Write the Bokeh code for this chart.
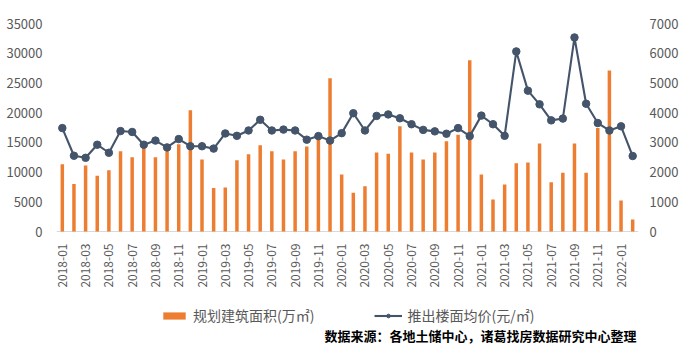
from math import pi
from bokeh.plotting import figure
from bokeh.models import (Range1d, LinearAxis, FixedTicker, Legend, LegendItem,
                          Label, Span, ColumnDataSource)
from bokeh.core.properties import value
from bokeh.embed import file_html
from bokeh.resources import INLINE

months = ["2018-01", "2018-02", "2018-03", "2018-04", "2018-05", "2018-06",
          "2018-07", "2018-08", "2018-09", "2018-10", "2018-11", "2018-12",
          "2019-01", "2019-02", "2019-03", "2019-04", "2019-05", "2019-06",
          "2019-07", "2019-08", "2019-09", "2019-10", "2019-11", "2019-12",
          "2020-01", "2020-02", "2020-03", "2020-04", "2020-05", "2020-06",
          "2020-07", "2020-08", "2020-09", "2020-10", "2020-11", "2020-12",
          "2021-01", "2021-02", "2021-03", "2021-04", "2021-05", "2021-06",
          "2021-07", "2021-08", "2021-09", "2021-10", "2021-11", "2021-12",
          "2022-01", "2022-02"]

area = [11300, 8000, 11100, 9400, 10300, 13500, 12500, 14300, 12500, 13800,
        14700, 20400, 12100, 7300, 7400, 12000, 13000, 14500, 13500, 12100,
        13500, 14300, 15800, 25800, 9600, 6500, 7600, 13300, 13100, 17700,
        13300, 12100, 13300, 15200, 16300, 28800, 9600, 5400, 7900, 11500,
        11600, 14800, 8300, 9900, 14800, 9900, 17400, 27100, 5200, 2000]

price = [3480, 2550, 2480, 2920, 2650, 3380, 3350, 2920, 3060, 2830,
         3110, 2870, 2870, 2790, 3300, 3220, 3400, 3760, 3400, 3430,
         3400, 3090, 3210, 3060, 3310, 3980, 3400, 3890, 3940, 3810,
         3610, 3420, 3370, 3290, 3480, 3210, 3900, 3610, 3220, 6060,
         4740, 4280, 3740, 3800, 6530, 4300, 3650, 3400, 3540, 2540]

left_ticks = [0, 5000, 10000, 15000, 20000, 25000, 30000, 35000]
right_ticks = [0, 1000, 2000, 3000, 4000, 5000, 6000, 7000]

area_label = "规划建筑面积(万㎡)"
price_label = "推出楼面均价(元/㎡)"
source_note = "数据来源：各地土储中心，诸葛找房数据研究中心整理"

# ---- layout (pixels) ----
W, H = 681, 347
TOP, LEFT, RIGHT = 23, 56, 36
ZERO_PX = 231            # screen y of the value 0
NOTE_PX = 335            # screen y of the source note
AREA_MAX, PRICE_MAX = 35000, 7000
per_px = AREA_MAX / (ZERO_PX - TOP)
y_low = -(H - ZERO_PX) * per_px

FONT = "Noto Sans CJK SC"
GRAY = "#595959"

idx = list(range(len(months)))
src = ColumnDataSource(dict(idx=idx, month=months, area=area, price=price))
lab_idx = idx[::2]
lab_src = ColumnDataSource(dict(x=lab_idx, y=[0] * len(lab_idx),
                                text=[months[i] for i in lab_idx]))

p = figure(width=W, height=H, output_backend="svg", toolbar_location=None,
           x_range=Range1d(-0.5, len(months) - 0.5),
           y_range=Range1d(y_low, AREA_MAX),
           x_axis_location=None,
           min_border_left=LEFT, min_border_right=RIGHT, min_border_top=TOP,
           min_border_bottom=0)
p.extra_y_ranges = {"price": Range1d(y_low * PRICE_MAX / AREA_MAX, PRICE_MAX)}
p.outline_line_color = None
p.grid.visible = False

p.add_layout(Span(location=0, dimension="width", line_color="#d9d9d9",
                  line_width=1, level="underlay"))

bars = p.vbar(x="idx", top="area", width=0.3, source=src,
              fill_color="#ed7d31", line_color=None)
ln = p.line(x="idx", y="price", source=src, y_range_name="price",
            line_color="#44546a", line_width=2.1)
pts = p.scatter(x="idx", y="price", source=src, y_range_name="price",
                size=7.5, fill_color="#44546a", line_color="#44546a")

# category labels (rotated, every second month)
p.text(x="x", y="y", text="text", source=lab_src, angle=pi / 2,
       text_align="right", text_baseline="middle", y_offset=12,
       text_font=value(FONT), text_font_size="12px", text_color=GRAY)

# left axis
ya = p.yaxis[0]
ya.ticker = FixedTicker(ticks=left_ticks)
ya.axis_line_color = None
ya.major_tick_line_color = None
ya.minor_tick_line_color = None
ya.major_label_text_font = FONT
ya.major_label_text_font_size = "13px"
ya.major_label_text_color = GRAY
ya.major_label_standoff = 8

# right axis
ra = LinearAxis(y_range_name="price", ticker=FixedTicker(ticks=right_ticks))
ra.axis_line_color = None
ra.major_tick_line_color = None
ra.minor_tick_line_color = None
ra.major_label_text_font = FONT
ra.major_label_text_font_size = "13px"
ra.major_label_text_color = GRAY
ra.major_label_standoff = 5
p.add_layout(ra, "right")

legend = Legend(items=[LegendItem(label=area_label, renderers=[bars]),
                       LegendItem(label=price_label, renderers=[ln, pts])],
                orientation="horizontal", location=(104, 22),
                border_line_color=None, background_fill_alpha=0,
                label_text_font=FONT, label_text_font_size="14px",
                label_text_color=GRAY, glyph_width=28, glyph_height=9,
                spacing=60, label_standoff=5, padding=0, margin=0)
p.add_layout(legend, "center")

note = Label(x=len(months) - 0.5, y=-(NOTE_PX - ZERO_PX) * per_px,
             text=source_note, text_align="right", text_baseline="middle",
             x_offset=-2,
             text_font=FONT, text_font_size="13px", text_font_style="bold",
             text_color="black")
p.add_layout(note)

open("out.html", "w").write(file_html(p, INLINE))
